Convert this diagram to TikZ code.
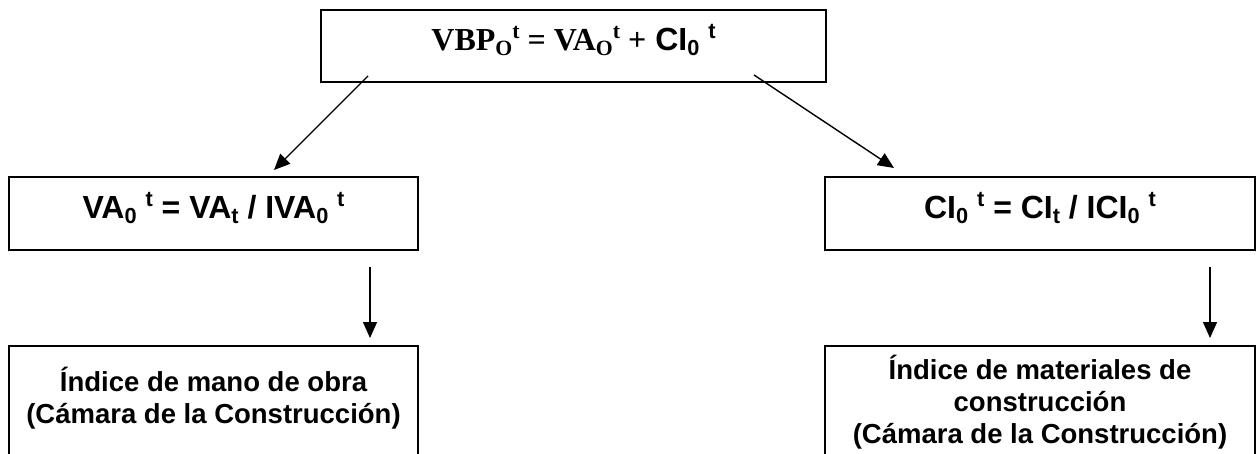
\documentclass[tikz,border=0pt]{standalone}
\usepackage{fontspec}
\setmainfont{Liberation Sans}
\newfontfamily\tnr{Liberation Serif}
\usetikzlibrary{arrows.meta}
\newcommand{\dn}[1]{\raisebox{-0.16em}{\scalebox{0.68}{#1}}}
\newcommand{\up}[1]{\raisebox{0.36em}{\scalebox{0.68}{#1}}}

\begin{document}
\begin{tikzpicture}[x=1pt,y=-1pt,
  box/.style={draw,line width=2pt,inner sep=0pt,text height=30pt,text depth=21pt,font=\bfseries\fontsize{32}{38}\selectfont},
  txt/.style={draw,line width=2pt,inner sep=0pt,align=center,anchor=north,minimum height=130pt,font=\bfseries\fontsize{27.5}{32}\selectfont},
  arr/.style={line width=1.4pt,-{Triangle[length=16pt,width=14pt]}}]
%\draw[step=50pt,gray,very thin] (0,0) grid (1257,453); %background grid
\clip (0,0) rectangle (1257,453);
\node[box,minimum width=505pt,minimum height=72pt,text depth=22pt] (vbp) at (573.5,46) {{\tnr VBP\dn{O}\up{t} = VA\dn{O}\up{t} +} CI\dn{0} \up{t}};
\node[box,minimum width=409pt,minimum height=73pt] (va) at (213.5,213.5) {VA\dn{0} \up{t} = VA\dn{t} / IVA\dn{0} \up{t}};
\node[box,minimum width=430pt,minimum height=73pt] (ci) at (1040,213.5) {CI\dn{0} \up{t} = CI\dn{t} / ICI\dn{0} \up{t}};
\node[txt,minimum width=409pt,text depth=31pt] (imo) at (213.5,345) {Índice de mano de obra\\(Cámara de la Construcción)};
\node[txt,minimum width=430pt,text depth=23pt] (imc) at (1040,345) {Índice de materiales de\\construcción\\(Cámara de la Construcción)};
\draw[arr] ([xshift=48pt,yshift=7pt]vbp.south west) -- ([xshift=60.5pt,yshift=6pt]va.north);
\draw[arr] ([xshift=-73pt,yshift=8pt]vbp.south east) -- ([xshift=70pt,yshift=8pt]ci.north west);
\draw[arr] ([xshift=156.5pt,yshift=-16pt]va.south) -- ([xshift=156.5pt,yshift=7pt]imo.north);
\draw[arr] ([xshift=170pt,yshift=-16pt]ci.south) -- ([xshift=170pt,yshift=7pt]imc.north);
\end{tikzpicture}
\end{document}
